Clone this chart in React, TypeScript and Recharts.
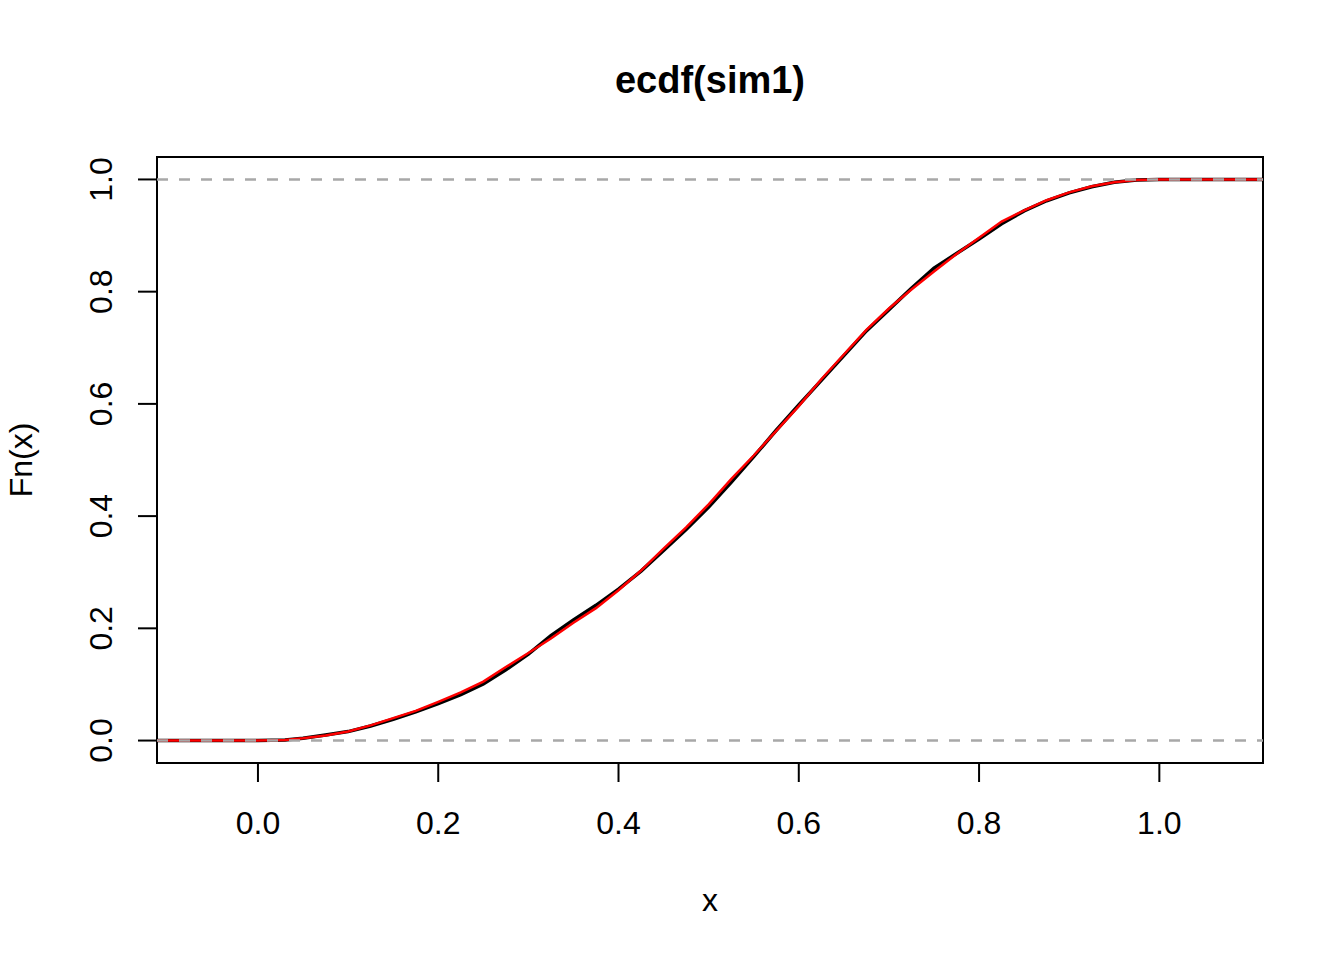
import { LineChart, Line, XAxis, YAxis, ReferenceLine, ReferenceArea } from "recharts";

const xs = [
  -0.112, 0.0, 0.03, 0.05, 0.075, 0.1, 0.125, 0.15, 0.175, 0.2, 0.225, 0.25,
  0.275, 0.3, 0.325, 0.35, 0.375, 0.4, 0.425, 0.45, 0.475, 0.5, 0.525, 0.55,
  0.575, 0.6, 0.625, 0.65, 0.675, 0.7, 0.725, 0.75, 0.775, 0.8, 0.825, 0.85,
  0.875, 0.9, 0.925, 0.95, 0.975, 1.0, 1.115,
];

// empirical cdf (black)
const ecdfVals = [
  0, 0, 0.001, 0.004, 0.01, 0.016, 0.026, 0.038, 0.051, 0.066, 0.082, 0.101,
  0.126, 0.154, 0.187, 0.215, 0.241, 0.27, 0.302, 0.339, 0.376, 0.416, 0.46, 0.506,
  0.553, 0.598, 0.642, 0.686, 0.73, 0.768, 0.806, 0.842, 0.868, 0.894, 0.921, 0.944,
  0.962, 0.976, 0.987, 0.995, 0.999, 1, 1,
];

// overlaid cdf (red)
const fitVals = [
  0, 0, 0.001, 0.004, 0.009, 0.016, 0.027, 0.04, 0.053, 0.069, 0.086, 0.105,
  0.131, 0.156, 0.182, 0.21, 0.236, 0.268, 0.303, 0.342, 0.38, 0.421, 0.466, 0.508,
  0.552, 0.596, 0.644, 0.688, 0.732, 0.77, 0.804, 0.836, 0.867, 0.896, 0.925, 0.945,
  0.963, 0.977, 0.988, 0.995, 0.999, 1, 1,
];

const xTicks = [0, 0.2, 0.4, 0.6, 0.8, 1.0];
const yTicks = [0, 0.2, 0.4, 0.6, 0.8, 1.0];
const xDomain = [-0.112, 1.115];
const yDomain = [-0.04, 1.04];

const data = xs.map((x, i) => ({ x, ecdf: ecdfVals[i], fit: fitVals[i] }));

const FONT = '"Liberation Sans", Arial, Helvetica, sans-serif';

const YTick = ({ x, y, payload }: any) => {
  const bx = x - 26;
  return (
    <text
      x={bx}
      y={y}
      transform={`rotate(-90 ${bx} ${y})`}
      textAnchor="middle"
      fontSize={32}
      fontFamily={FONT}
      fill="#000"
    >
      {Number(payload.value).toFixed(1)}
    </text>
  );
};

export default function App() {
  return (
    <div style={{ position: "absolute", left: 0, top: 0, width: 1344, height: 960, background: "#fff" }}>
      <div
        style={{
          position: "absolute",
          left: 0,
          top: 61,
          width: 1420,
          textAlign: "center",
          fontFamily: FONT,
          fontSize: 38,
          fontWeight: "bold",
          lineHeight: "38px",
          color: "#000",
        }}
      >
        ecdf(sim1)
      </div>
      <LineChart
        width={1344}
        height={960}
        data={data}
        margin={{ top: 157, right: 81, bottom: 47, left: 37 }}
      >
        <XAxis
          dataKey="x"
          type="number"
          domain={xDomain}
          allowDataOverflow
          ticks={xTicks}
          tickFormatter={(v: number) => v.toFixed(1)}
          tickSize={19}
          tickMargin={29}
          height={150}
          axisLine={false}
          tickLine={{ stroke: "#000", strokeWidth: 2 }}
          tick={{ fontSize: 32, fill: "#000", fontFamily: FONT }}
          label={{
            content: ({ viewBox }: any) => (
              <text
                x={viewBox.x + viewBox.width / 2}
                y={viewBox.y + 148}
                textAnchor="middle"
                fontSize={32}
                fontFamily={FONT}
                fill="#000"
              >
                x
              </text>
            ),
          }}
        />
        <YAxis
          type="number"
          domain={yDomain}
          allowDataOverflow
          ticks={yTicks}
          tickSize={19}
          tickMargin={0}
          width={120}
          axisLine={false}
          tickLine={{ stroke: "#000", strokeWidth: 2 }}
          tick={<YTick />}
          label={{
            content: ({ viewBox }: any) => {
              const lx = viewBox.x - 5;
              const ly = viewBox.y + viewBox.height / 2;
              return (
                <text
                  x={lx}
                  y={ly}
                  transform={`rotate(-90 ${lx} ${ly})`}
                  textAnchor="middle"
                  fontSize={32}
                  fontFamily={FONT}
                  fill="#000"
                >
                  Fn(x)
                </text>
              );
            },
          }}
        />
        <Line
          type="linear"
          dataKey="ecdf"
          stroke="#000"
          strokeWidth={3.5}
          dot={false}
          isAnimationActive={false}
        />
        <Line
          type="linear"
          dataKey="fit"
          stroke="#ff0000"
          strokeWidth={2.5}
          dot={false}
          isAnimationActive={false}
        />
        <ReferenceLine y={0} stroke="#a8a8a8" strokeWidth={2.5} strokeDasharray="11 11" />
        <ReferenceLine y={1} stroke="#a8a8a8" strokeWidth={2.5} strokeDasharray="11 11" />
        <ReferenceArea
          x1={xDomain[0]}
          x2={xDomain[1]}
          y1={yDomain[0]}
          y2={yDomain[1]}
          fill="none"
          fillOpacity={0}
          stroke="#000"
          strokeWidth={2}
        />
      </LineChart>
    </div>
  );
}
